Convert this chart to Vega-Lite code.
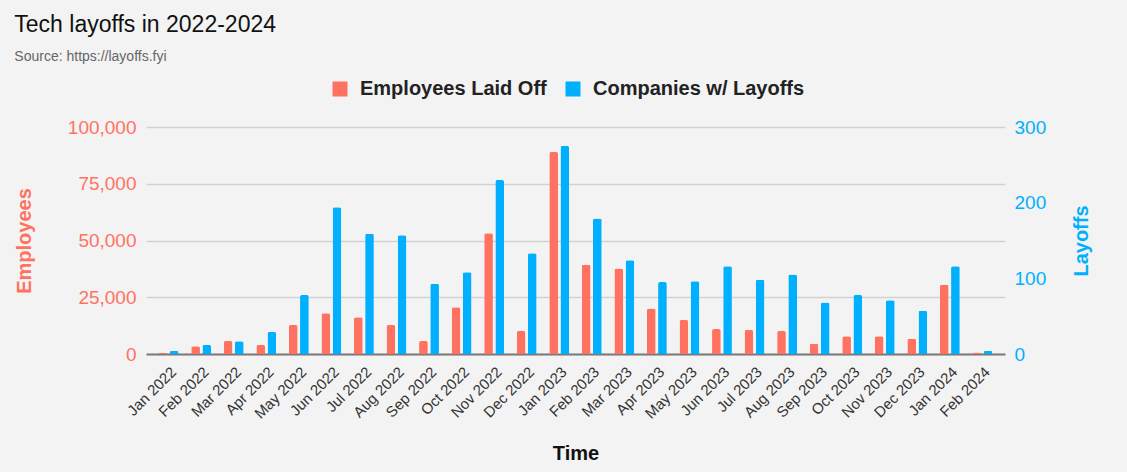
{
  "$schema": "https://vega.github.io/schema/vega-lite/v6.json",
  "autosize": {"type": "none"},
  "padding": {"left": 146, "top": 127, "right": 122, "bottom": 118},
  "width": 859,
  "height": 227,
  "background": "#f3f3f3",
  "title": {
    "text": "Tech layoffs in 2022-2024",
    "subtitle": "Source: https://layoffs.fyi",
    "anchor": "start",
    "font": "Liberation Sans",
    "fontSize": 23,
    "fontWeight": "normal",
    "color": "#111111",
    "subtitleFont": "Liberation Sans",
    "subtitleFontSize": 14,
    "subtitleColor": "#666666",
    "subtitlePadding": 13,
    "offset": 15
  },
  "data": {
    "values": [
      {"month": "Jan 2022", "employees": 510, "companies": 4},
      {"month": "Feb 2022", "employees": 3400, "companies": 12},
      {"month": "Mar 2022", "employees": 5700, "companies": 17},
      {"month": "Apr 2022", "employees": 4000, "companies": 29},
      {"month": "May 2022", "employees": 12800, "companies": 78},
      {"month": "Jun 2022", "employees": 17900, "companies": 194},
      {"month": "Jul 2022", "employees": 16150, "companies": 159},
      {"month": "Aug 2022", "employees": 12800, "companies": 157},
      {"month": "Sep 2022", "employees": 5700, "companies": 93},
      {"month": "Oct 2022", "employees": 20600, "companies": 108},
      {"month": "Nov 2022", "employees": 53200, "companies": 230},
      {"month": "Dec 2022", "employees": 10100, "companies": 133},
      {"month": "Jan 2023", "employees": 89000, "companies": 275},
      {"month": "Feb 2023", "employees": 39350, "companies": 179},
      {"month": "Mar 2023", "employees": 37700, "companies": 124},
      {"month": "Apr 2023", "employees": 20000, "companies": 95},
      {"month": "May 2023", "employees": 15000, "companies": 96},
      {"month": "Jun 2023", "employees": 11000, "companies": 116},
      {"month": "Jul 2023", "employees": 10600, "companies": 98},
      {"month": "Aug 2023", "employees": 10100, "companies": 105},
      {"month": "Sep 2023", "employees": 4550, "companies": 68},
      {"month": "Oct 2023", "employees": 7800, "companies": 78},
      {"month": "Nov 2023", "employees": 7800, "companies": 71},
      {"month": "Dec 2023", "employees": 6750, "companies": 57},
      {"month": "Jan 2024", "employees": 30500, "companies": 116},
      {"month": "Feb 2024", "employees": 700, "companies": 4}
    ]
  },
  "encoding": {
    "x": {
      "field": "month",
      "type": "nominal",
      "sort": null,
      "title": "Time",
      "scale": {"paddingInner": 0.39, "paddingOuter": 0.39},
      "axis": {
        "labelAngle": -45,
        "labelFont": "Liberation Sans",
        "labelFontSize": 15,
        "labelColor": "#333333",
        "labelPadding": 10,
        "ticks": false,
        "domainColor": "#7a7a7a",
        "domainWidth": 2,
        "titleFont": "Liberation Sans",
        "titleFontSize": 20,
        "titleFontWeight": "bold",
        "titleColor": "#111111",
        "titlePadding": 22
      }
    },
    "color": {
      "type": "nominal",
      "scale": {
        "domain": ["Employees Laid Off", "Companies w/ Layoffs"],
        "range": ["#ff7262", "#00b0ff"]
      },
      "legend": {
        "title": null,
        "orient": "none",
        "direction": "horizontal",
        "legendX": 184,
        "legendY": -48,
        "symbolType": "square",
        "symbolSize": 225,
        "symbolStrokeWidth": 0,
        "labelFont": "Liberation Sans",
        "labelFontSize": 20,
        "labelFontWeight": "bold",
        "labelColor": "#222222",
        "labelLimit": 400,
        "labelOffset": 10,
        "columnPadding": 16
      }
    }
  },
  "layer": [
    {
      "mark": {"type": "bar", "cornerRadiusTopLeft": 2, "cornerRadiusTopRight": 2},
      "encoding": {
        "y": {
          "field": "employees",
          "type": "quantitative",
          "title": "Employees",
          "scale": {"domain": [0, 100000]},
          "axis": {
            "orient": "left",
            "values": [0, 25000, 50000, 75000, 100000],
            "format": ",d",
            "domain": false,
            "ticks": false,
            "gridColor": "#d2d2d2",
            "gridWidth": 1.5,
            "labelFont": "Liberation Sans",
            "labelFontSize": 19,
            "labelColor": "#ff7262",
            "labelPadding": 10,
            "titleFont": "Liberation Sans",
            "titleFontSize": 20,
            "titleFontWeight": "bold",
            "titleColor": "#ff7262",
            "titlePadding": 33
          }
        },
        "xOffset": {
          "datum": "Employees Laid Off",
          "scale": {"domain": ["Employees Laid Off", "Companies w/ Layoffs"], "paddingInner": 0.22, "paddingOuter": 0}
        },
        "color": {"datum": "Employees Laid Off"}
      }
    },
    {
      "mark": {"type": "bar", "cornerRadiusTopLeft": 2, "cornerRadiusTopRight": 2},
      "encoding": {
        "y": {
          "field": "companies",
          "type": "quantitative",
          "title": "Layoffs",
          "scale": {"domain": [0, 300]},
          "axis": {
            "orient": "right",
            "values": [0, 100, 200, 300],
            "format": "d",
            "domain": false,
            "ticks": false,
            "grid": false,
            "labelFont": "Liberation Sans",
            "labelFontSize": 19,
            "labelColor": "#00b0ff",
            "labelPadding": 9,
            "titleFont": "Liberation Sans",
            "titleFontSize": 20,
            "titleFontWeight": "bold",
            "titleColor": "#00b0ff",
            "titleAngle": 270,
            "titlePadding": 46
          }
        },
        "xOffset": {"datum": "Companies w/ Layoffs"},
        "color": {"datum": "Companies w/ Layoffs"}
      }
    }
  ],
  "resolve": {"scale": {"y": "independent"}},
  "config": {
    "view": {"stroke": null}
  }
}
